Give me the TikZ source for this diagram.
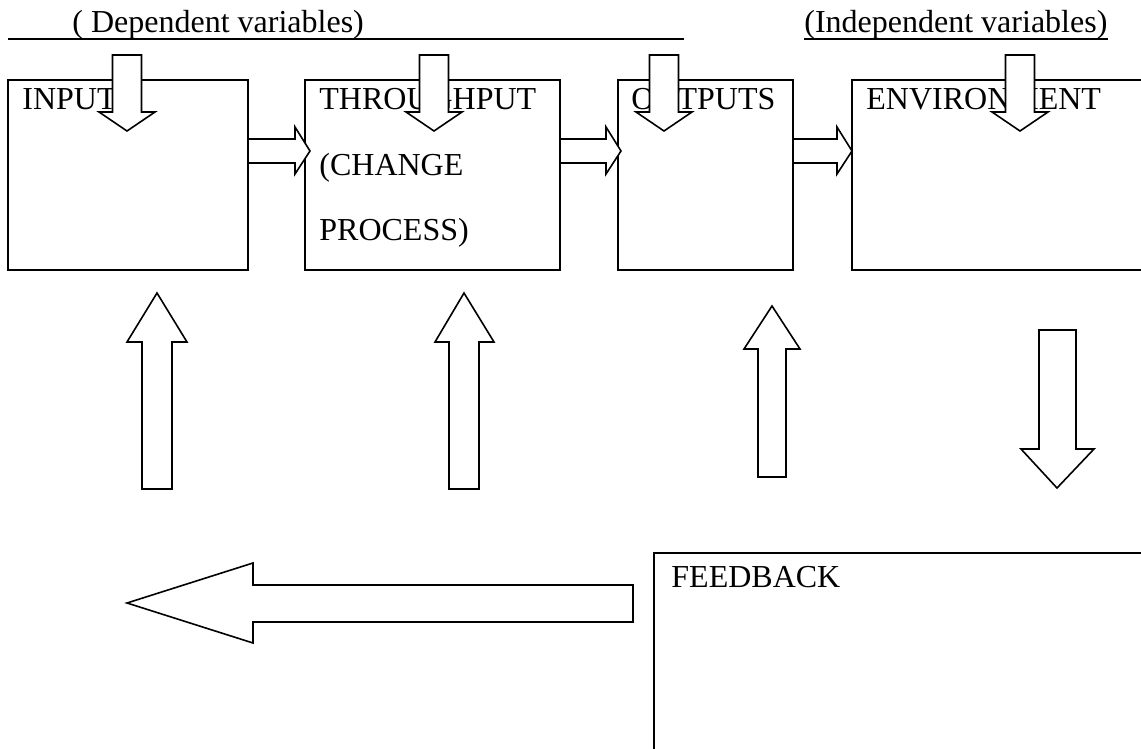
\documentclass[tikz,border=0pt]{standalone}
\usepackage{fontspec}
\setmainfont{Liberation Serif}
\usetikzlibrary{calc}

\begin{document}
\begin{tikzpicture}[x=0.5pt,y=-0.5pt,font=\fontsize{16}{19}\selectfont,
        box/.style={draw,line width=1pt},
        blockarrow/.style={draw,fill=white,line width=0.8pt,line join=miter},
        boxtext/.style={anchor=base west,inner sep=0pt}]

        \clip (0,0) rectangle (1141,749);
        \fill[white] (0,0) rectangle (1141,749);

        % headings
        \node[boxtext] (dependent) at (72,33) {( Dependent variables)};
        \draw[line width=0.8pt] (8,39) -- (684,39);
        \node[boxtext] (independent) at (804,33) {(Independent variables)};
        \draw[line width=0.8pt] ($(independent.base west)+(0,6)$) -- ($(independent.base east)+(0,6)$);

        % boxes
        \draw[box] (8,80) rectangle (248,270);
        \draw[box] (305,80) rectangle (560,270);
        \draw[box] (618,80) rectangle (793,270);
        \draw[box] (852,80) rectangle (1160,270);
        \draw[box] (654,553) rectangle (1160,770);

        \node[boxtext] (input) at (22,110) {INPUT};
        \node[boxtext] (throughput) at (319,110) {THROUGHPUT};
        \node[boxtext] (change) at (319,176) {(CHANGE};
        \node[boxtext] (process) at (319,241) {PROCESS)};
        \node[boxtext] (outputs) at (631,110) {OUTPUTS};
        \node[boxtext] (environment) at (866,110) {ENVIRONMENT};
        \node[boxtext] (feedback) at (671,587) {FEEDBACK};

        % small arrows into the boxes
        \draw[blockarrow] (112.5,55) -- ++(29,0) -- ++(0,57) -- ++(13.5,0) -- ++(-28,19) -- ++(-28,-19) -- ++(13.5,0) -- cycle;
        \draw[blockarrow] (419.5,55) -- ++(29,0) -- ++(0,57) -- ++(13.5,0) -- ++(-28,19) -- ++(-28,-19) -- ++(13.5,0) -- cycle;
        \draw[blockarrow] (649.5,55) -- ++(29,0) -- ++(0,57) -- ++(13.5,0) -- ++(-28,19) -- ++(-28,-19) -- ++(13.5,0) -- cycle;
        \draw[blockarrow] (1005.5,55) -- ++(29,0) -- ++(0,57) -- ++(13.5,0) -- ++(-28,19) -- ++(-28,-19) -- ++(13.5,0) -- cycle;

        % arrows between the boxes
        \draw[blockarrow] (248,139) -- ++(47,0) -- ++(0,-12) -- ++(15,24) -- ++(-15,23) -- ++(0,-11) -- ++(-47,0) -- cycle;
        \draw[blockarrow] (560,139) -- ++(46,0) -- ++(0,-12) -- ++(15,24) -- ++(-15,23) -- ++(0,-11) -- ++(-46,0) -- cycle;
        \draw[blockarrow] (793,139) -- ++(44,0) -- ++(0,-12) -- ++(15,24) -- ++(-15,23) -- ++(0,-11) -- ++(-44,0) -- cycle;

        % large arrows
        \draw[blockarrow] (142,489) -- (142,342) -- (127,342) -- (157,293) -- (187,342) -- (172,342) -- (172,489) -- cycle;
        \draw[blockarrow] (449,489) -- (449,342) -- (435,342) -- (464,293) -- (494,342) -- (479,342) -- (479,489) -- cycle;
        \draw[blockarrow] (758,477) -- (758,349) -- (744,349) -- (772,306) -- (800,349) -- (786,349) -- (786,477) -- cycle;
        \draw[blockarrow] (1039,330) -- (1076,330) -- (1076,449) -- (1094,449) -- (1057,488) -- (1021,449) -- (1039,449) -- cycle;
        \draw[blockarrow] (633,585) -- (253,585) -- (253,563) -- (127,603) -- (253,643) -- (253,622) -- (633,622) -- cycle;

    \end{tikzpicture}
\end{document}
